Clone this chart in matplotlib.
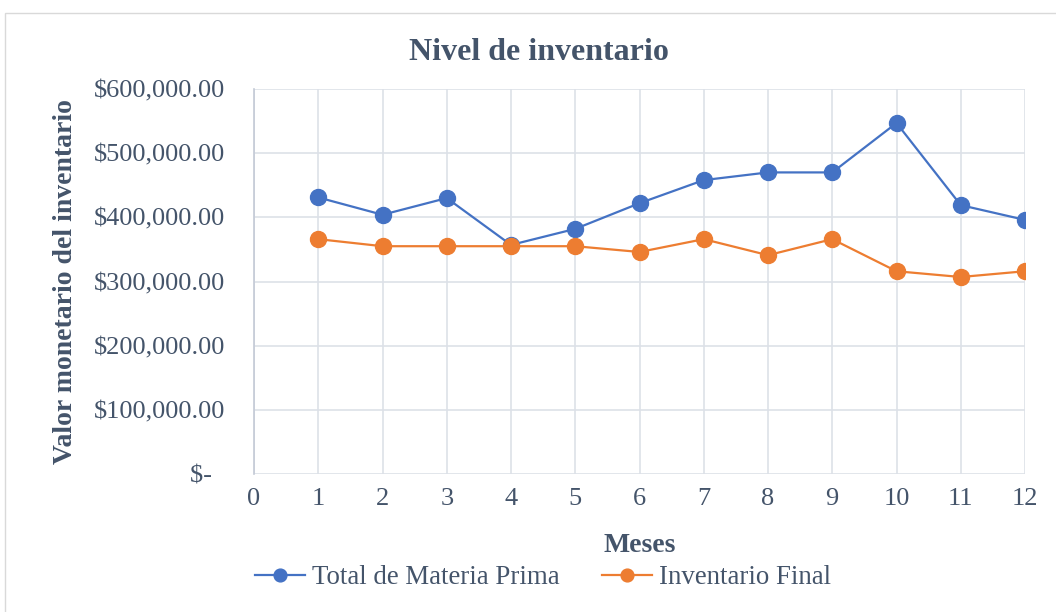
import matplotlib
matplotlib.use("Agg")
import matplotlib.pyplot as plt
from matplotlib.ticker import FuncFormatter
from matplotlib.patches import Rectangle

meses = [1, 2, 3, 4, 5, 6, 7, 8, 9, 10, 11, 12]
total_materia_prima = [431000, 404000, 430000, 357000, 382000, 422000,
                       458000, 470000, 470000, 547000, 419000, 396000]
inventario_final = [366000, 355000, 355000, 355000, 355000, 346000,
                    366000, 341000, 366000, 316000, 307000, 316000]
x_ticks = list(range(0, 13))
y_ticks = [0, 100000, 200000, 300000, 400000, 500000, 600000]

plt.rcParams['font.family'] = ['Liberation Serif', 'DejaVu Serif']
TEXT = '#44546A'
GRID = '#DDE1E8'

fig = plt.figure(figsize=(10.56, 6.12), dpi=100)
fig.patches.append(Rectangle((5 / 1056, -0.01), 1.02, 1 - 13 / 612 + 0.01,
                             transform=fig.transFigure, fill=False,
                             edgecolor='#D9D9D9', linewidth=1.0))
ax = fig.add_axes([254 / 1056, 1 - 474 / 612, (1025 - 254) / 1056, (474 - 89) / 612])

ax.plot(meses, total_materia_prima, color='#4472C4', lw=1.6, marker='o',
        ms=11.5, label='Total de Materia Prima', zorder=3)
ax.plot(meses, inventario_final, color='#ED7D31', lw=1.6, marker='o',
        ms=11.5, label='Inventario Final', zorder=3)

ax.set_xlim(0, 12)
ax.set_ylim(0, 600000)
ax.set_xticks(x_ticks)
ax.set_yticks(y_ticks)


def money(v, _pos):
    if v == 0:
        return '$-  '
    return '${:,.2f}'.format(v)


ax.yaxis.set_major_formatter(FuncFormatter(money))
ax.grid(True, color=GRID, lw=1.2)
ax.set_axisbelow(True)
for side in ['top', 'right', 'bottom']:
    ax.spines[side].set_visible(False)
ax.spines['left'].set_color('#C3CAD6')
ax.spines['left'].set_linewidth(1.2)
ax.tick_params(axis='both', length=0, labelsize=19, labelcolor=TEXT)
ax.tick_params(axis='x', pad=10)
ax.tick_params(axis='y', pad=21)

fig.text(539 / 1056, 1 - 53 / 612, 'Nivel de inventario', fontsize=23,
         fontweight='bold', color=TEXT, ha='center', va='center')
ax.set_xlabel('Meses', fontsize=20, fontweight='bold', color=TEXT)
ax.xaxis.set_label_coords(0.5, -(546 - 474) / (474 - 89), transform=ax.transAxes)
ax.xaxis.label.set_va('center')
ax.set_ylabel('Valor monetario del inventario', fontsize=20, fontweight='bold',
              color=TEXT)
ax.yaxis.set_label_coords(-(254 - 66) / (1025 - 254), 0.5)
ax.yaxis.label.set_va('center')

leg = fig.legend(loc='center', bbox_to_anchor=(543 / 1056, 1 - 578 / 612), ncol=2,
                 frameon=False, fontsize=19.4, handlelength=1.85, columnspacing=1.6,
                 handletextpad=0.25, markerscale=0.8)
for t in leg.get_texts():
    t.set_color(TEXT)

fig.savefig('out.png', dpi=100)
